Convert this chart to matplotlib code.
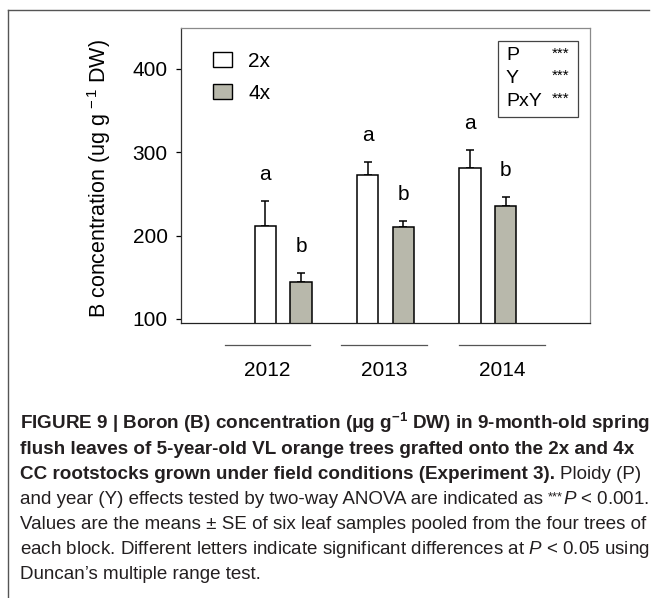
import matplotlib
matplotlib.use("Agg")
import matplotlib.pyplot as plt
import numpy as np
from matplotlib.patches import Rectangle
from matplotlib.lines import Line2D

plt.rcParams['font.family'] = ['Liberation Sans', 'DejaVu Sans']
plt.rcParams['mathtext.fontset'] = 'custom'
plt.rcParams['mathtext.rm'] = 'Liberation Sans'
plt.rcParams['mathtext.it'] = 'Liberation Sans:italic'
plt.rcParams['mathtext.bf'] = 'Liberation Sans:bold'

# ---- data ----
years = ["2012", "2013", "2014"]
series = ["2x", "4x"]
mean_2x = [211, 273, 281]
se_2x = [31, 15, 22]
mean_4x = [144, 210, 235]
se_4x = [11, 7.5, 11.5]
letters_2x = ["a", "a", "a"]
letters_4x = ["b", "b", "b"]
stats_labels = ["P", "Y", "PxY"]
stats_signif = ["***", "***", "***"]
yticks = [100, 200, 300, 400]

W, H = 657, 598
fig = plt.figure(figsize=(W / 100, H / 100), dpi=100)

def fx(px):
    return px / W

def fy(py):
    return 1 - py / H

FS = 15

ax_l, ax_r, ax_t, ax_b = 181, 590, 28, 323
ax = fig.add_axes([fx(ax_l), fy(ax_b), (ax_r - ax_l) / W, (ax_b - ax_t) / H])

x = np.arange(1, len(years) + 1)
bw = 0.21
off = 0.175
c2 = "white"
c4 = "#b8b8ab"
ax.bar(x - off, mean_2x, bw, color=c2, edgecolor="black", linewidth=1.1, label=series[0], zorder=2)
ax.bar(x + off, mean_4x, bw, color=c4, edgecolor="black", linewidth=1.1, label=series[1], zorder=2)
ax.errorbar(x - off, mean_2x, yerr=[np.zeros(3), se_2x], fmt="none", ecolor="black",
            elinewidth=1.1, capsize=3, capthick=1.1, zorder=1)
ax.errorbar(x + off, mean_4x, yerr=[np.zeros(3), se_4x], fmt="none", ecolor="black",
            elinewidth=1.1, capsize=3, capthick=1.1, zorder=1)

for i in range(len(years)):
    ax.annotate(letters_2x[i], (x[i] - off, mean_2x[i] + se_2x[i]), xytext=(0, 15),
                textcoords="offset points", ha="center", va="baseline", fontsize=FS)
    ax.annotate(letters_4x[i], (x[i] + off, mean_4x[i] + se_4x[i]), xytext=(0, 15),
                textcoords="offset points", ha="center", va="baseline", fontsize=FS)

ax.set_xlim(0, 4)
ax.set_ylim(95, 449)
ax.set_xticks([])
ax.set_yticks(yticks)
ax.tick_params(axis="y", direction="out", length=3.5, width=0.9, pad=6, labelsize=FS)
ax.spines["top"].set_color("#8a8a8a")
ax.spines["right"].set_color("#8a8a8a")
ax.spines["left"].set_color("#333333")
ax.spines["bottom"].set_color("#222222")
for s in ax.spines.values():
    s.set_linewidth(0.9)

ax.set_ylabel("B concentration (ug g$^{\\,-1}$ DW)", fontsize=15.5)
ax.yaxis.set_label_coords((113 - ax_l) / (ax_r - ax_l), 0.49)

leg = ax.legend(loc="upper left", bbox_to_anchor=((213 - ax_l) / (ax_r - ax_l), (ax_b - 52) / (ax_b - ax_t)),
                frameon=False, fontsize=FS, handlelength=0.9, handleheight=0.75,
                handletextpad=0.8, labelspacing=0.62, borderaxespad=0, borderpad=0)
for p in leg.get_patches():
    p.set_linewidth(1.0)

# stats box
def axx(px):
    return (px - ax_l) / (ax_r - ax_l)

def axy(py):
    return (ax_b - py) / (ax_b - ax_t)

ax.add_patch(Rectangle((axx(498), axy(117)), axx(578) - axx(498), axy(41) - axy(117),
                       transform=ax.transAxes, fill=False, edgecolor="#444444", linewidth=0.9))
for i, (lab, sig) in enumerate(zip(stats_labels, stats_signif)):
    yy = axy(56 + i * 22.5)
    ax.text(axx(506), yy, lab, transform=ax.transAxes, fontsize=14, va="center", ha="left")
    ax.text(axx(569), yy + 0.008, sig, transform=ax.transAxes, fontsize=11, va="center", ha="right")

# year group lines and labels
line_spans = [(225, 310), (341, 427), (459, 545)]
for (a, b), yr in zip(line_spans, years):
    fig.add_artist(Line2D([fx(a), fx(b)], [fy(345), fy(345)], color="#555555", linewidth=0.9))
    fig.text(fx((a + b) / 2), fy(370), yr, ha="center", va="center", fontsize=FS)

# frame
fig.add_artist(Line2D([fx(8), fx(649)], [fy(10), fy(10)], color="#555555", linewidth=1.0))
fig.add_artist(Line2D([fx(8), fx(8)], [fy(10), fy(598)], color="#555555", linewidth=1.0))

# caption: segments are (text, weight, rise_px, size_factor)
renderer = fig.canvas.get_renderer()
cap_color = "#231f20"
lines = [
    [("FIGURE 9 | Boron (B) concentration (\u03bcg g$^{\\mathbf{-1}}$ DW) in 9-month-old spring", "bold", 0, 1)],
    [("flush leaves of 5-year-old VL orange trees grafted onto the 2x and 4x", "bold", 0, 1)],
    [("CC rootstocks grown under field conditions (Experiment 3).", "bold", 0, 1),
     (" Ploidy (P)", "normal", 0, 1)],
    [("and year (Y) effects tested by two-way ANOVA are indicated as", "normal", 0, 1),
     (" ***", "normal", 4, 0.7),
     ("$\\mathit{P}$ < 0.001.", "normal", 0, 1)],
    [("Values are the means \u00b1 SE of six leaf samples pooled from the four trees of", "normal", 0, 1)],
    [("each block. Different letters indicate significant differences at $\\mathit{P}$ < 0.05 using", "normal", 0, 1)],
    [("Duncan\u2019s multiple range test.", "normal", 0, 1)],
]

def measure(s, weight, size):
    t = fig.text(0, 0, s, fontsize=size, fontweight=weight)
    w = t.get_window_extent(renderer).width
    t.remove()
    return w

def space_w(weight, size):
    return measure("x x", weight, size) - measure("xx", weight, size)

def line_width(segs, size_b, size_r):
    tot = 0
    for s, wgt, rise, fac in segs:
        size = (size_b if wgt == "bold" else size_r) * fac
        if s.startswith(" "):
            tot += space_w(wgt, size_r if wgt != "bold" else size_b)
            s = s.lstrip(" ")
        tot += measure(s, wgt, size)
    return tot

base = 11.0
target = 651 - 20
size_b = base * target / line_width(lines[0], base, base)
size_r = base * target / line_width(lines[3], base, base)
size_r = min(size_r, size_b * 1.05)

for i, segs in enumerate(lines):
    xpos = 20
    ypx = 429 + 25 * i
    for s, wgt, rise, fac in segs:
        bsize = size_b if wgt == "bold" else size_r
        size = bsize * fac
        if s.startswith(" "):
            xpos += space_w(wgt, bsize)
            s = s.lstrip(" ")
        t = fig.text(fx(xpos), fy(ypx - rise), s, fontsize=size, fontweight=wgt, color=cap_color,
                     ha="left", va="baseline")
        xpos += t.get_window_extent(renderer).width

fig.savefig("out.png", dpi=100)
